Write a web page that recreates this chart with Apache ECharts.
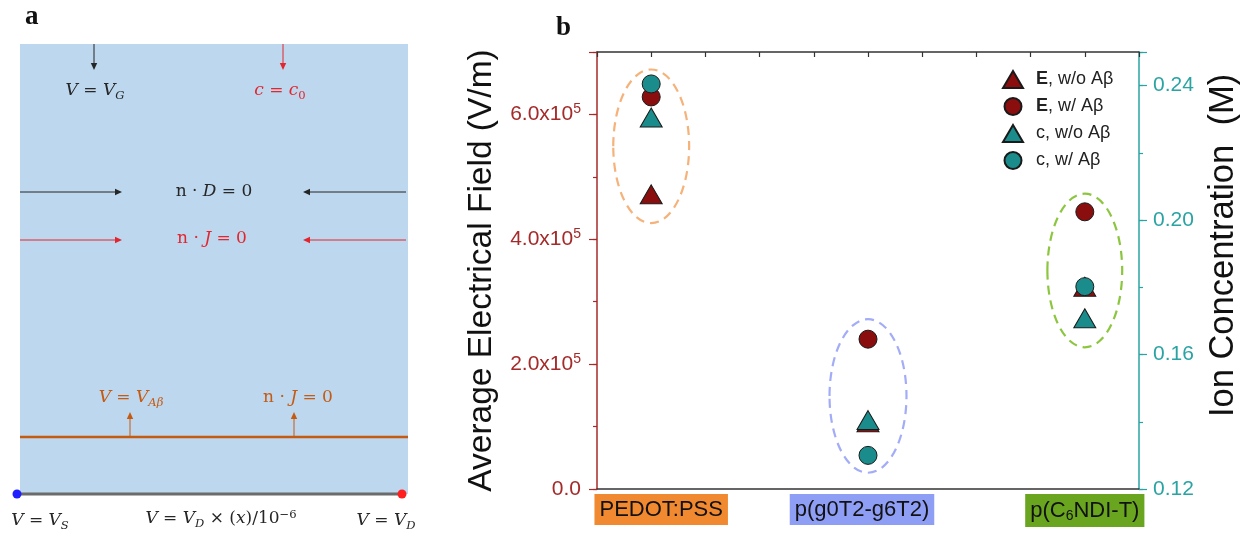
<!DOCTYPE html>
<html><head><meta charset="utf-8">
<script src="https://cdn.jsdelivr.net/npm/echarts@6/dist/echarts.min.js"></script>
<style>html,body{margin:0;padding:0;background:#fff}#c{width:1250px;height:533px}</style>
</head><body><div id="c"></div>
<script>
// ---- data ----
const categories = ['PEDOT:PSS', 'p(g0T2-g6T2)', 'p(C6NDI-T)'];
const categoryLabels = ['PEDOT:PSS', 'p(g0T2-g6T2)', 'p(C{sub|6}NDI-T)'];
const categoryPositions = [1, 5, 9];
const fieldWithoutAb = [4.72e5, 1.07e5, 3.24e5];
const fieldWithAb = [6.28e5, 2.40e5, 4.44e5];
const concWithoutAb = [0.2305, 0.1405, 0.1708];
const concWithAb = [0.2405, 0.1300, 0.1802];
const ellipseCenters = [5.49e5, 1.49e5, 3.50e5];
const ellipseHalfHeights = [1.23e5, 1.23e5, 1.23e5];
const ellipseHalfWidths = [0.70, 0.71, 0.69];
const seriesNames = ['E, w/o A\u03b2', 'E, w/ A\u03b2', 'c, w/o A\u03b2', 'c, w/ A\u03b2'];

// ---- styles ----
const RED = '#8b0e0e', TEAL = '#1a8c8c';
const RED_AX = '#a52a2a', TEAL_AX = '#2aa3a3';
const boxColors = ['#f0892f', '#8f9ef5', '#6aa51f'];
const boxShift = [10, -6, 0];
const ellipseColors = ['#f5b27a', '#a3acf7', '#8cc63f'];
const SANS = 'Liberation Sans';
const MATH = 'DejaVu Serif';

function mathRich(color, size) {
  return {
    i: {fontStyle: 'italic', fontSize: size, fontFamily: MATH, fill: color},
    u: {fontSize: size, fontFamily: MATH, fill: color},
    s: {fontStyle: 'italic', fontSize: size * 0.68, fontFamily: MATH, fill: color, padding: [9, 0, 0, 0]},
    r: {fontSize: size * 0.68, fontFamily: MATH, fill: color, padding: [9, 0, 0, 0]},
    p: {fontSize: size * 0.68, fontFamily: MATH, fill: color, padding: [0, 0, 9, 0]}
  };
}
function mtext(x, y, text, color) {
  return {type: 'text', x: x, y: y, silent: true, z: 10,
    style: {text: text, fill: color, fontSize: 17, fontFamily: MATH,
      align: 'center', verticalAlign: 'middle', textAlign: 'center', textVerticalAlign: 'middle',
      rich: mathRich(color, 17)}};
}
function arrow(x1, y1, x2, y2, color, w) {
  const dx = x2 - x1, dy = y2 - y1, L = Math.sqrt(dx * dx + dy * dy);
  const ux = dx / L, uy = dy / L, hl = 7, hw = 3.2;
  const bx = x2 - ux * hl, by = y2 - uy * hl;
  return [
    {type: 'line', silent: true, z: 10, shape: {x1: x1, y1: y1, x2: bx, y2: by}, style: {stroke: color, lineWidth: w || 1}},
    {type: 'polygon', silent: true, z: 10, shape: {points: [[x2, y2], [bx - uy * hw, by + ux * hw], [bx + uy * hw, by - ux * hw]]}, style: {fill: color}}
  ];
}
const BLK = '#262626', RD = '#e3262e', OR = '#c55a11';
const panelA = [].concat(
  [{type: 'rect', silent: true, z: 5, shape: {x: 20, y: 44, width: 388, height: 450}, style: {fill: '#bdd7ee'}}],
  [{type: 'line', silent: true, z: 9, shape: {x1: 20, y1: 437, x2: 408, y2: 437}, style: {stroke: OR, lineWidth: 2.5}}],
  [{type: 'line', silent: true, z: 9, shape: {x1: 17, y1: 494, x2: 402, y2: 494}, style: {stroke: '#6b6b6b', lineWidth: 3}}],
  [{type: 'circle', silent: true, z: 11, shape: {cx: 17, cy: 494, r: 4.5}, style: {fill: '#1f1fff'}}],
  [{type: 'circle', silent: true, z: 11, shape: {cx: 402, cy: 494, r: 4.5}, style: {fill: '#ff1f1f'}}],
  arrow(94, 44, 94, 70, BLK), arrow(283, 44, 283, 70, RD),
  arrow(20, 192, 122, 192, BLK), arrow(406, 192, 303, 192, BLK),
  arrow(20, 240, 122, 240, RD), arrow(406, 240, 303, 240, RD),
  arrow(130, 436, 130, 412, OR), arrow(294, 436, 294, 412, OR),
  [
    mtext(95, 91, '{i|V} = {i|V}{s|G}', BLK),
    mtext(280, 91, '{i|c} = {i|c}{r|0}', RD),
    mtext(214, 192, 'n \u00b7 {i|D} = 0', BLK),
    mtext(212, 239, 'n \u00b7 {i|J} = 0', RD),
    mtext(131, 398, '{i|V} = {i|V}{s|A\u03b2}', OR),
    mtext(298, 398, 'n \u00b7 {i|J} = 0', OR),
    mtext(40, 521, '{i|V} = {i|V}{s|S}', BLK),
    mtext(221, 519, '{i|V} = {i|V}{s|D} \u00d7 ({i|x})/10{p|\u22126}', BLK),
    mtext(386, 521, '{i|V} = {i|V}{s|D}', BLK),
    {type: 'text', x: 25, y: 4, silent: true, z: 10, style: {text: 'a', fill: '#111', fontSize: 27, fontWeight: 'bold', fontFamily: 'Liberation Serif'}},
    {type: 'text', x: 556, y: 15, silent: true, z: 10, style: {text: 'b', fill: '#111', fontSize: 27, fontWeight: 'bold', fontFamily: 'Liberation Serif'}}
  ]
);

function isMult(v, step) { const k = v / step; return Math.abs(k - Math.round(k)) < 1e-6; }

const chart = echarts.init(document.getElementById('c'));
const pts = (arr) => categoryPositions.map((x, i) => [x, arr[i]]);
const mk = (name, arr, yIdx, symbol, color) => ({
  name: name, type: 'scatter', xAxisIndex: 0, yAxisIndex: yIdx, data: pts(arr),
  symbol: symbol, symbolSize: symbol === 'triangle' ? [22, 19] : 18, z: 3,
  itemStyle: {color: color, borderColor: '#1a1a1a', borderWidth: 1, opacity: 1},
  emphasis: {disabled: true}
});

chart.setOption({
  animation: false,
  backgroundColor: '#fff',
  textStyle: {fontFamily: SANS},
  graphic: {elements: panelA},
  grid: {left: 597, right: 111, top: 52, bottom: 44, containLabel: false, outerBoundsMode: 'none'},
  legend: {
    orient: 'vertical', left: 997, top: 65, itemWidth: 20, itemHeight: 17, itemGap: 8,
    selectedMode: false, data: seriesNames,
    textStyle: {fontSize: 18, color: '#222', fontFamily: SANS, padding: [0, 0, 0, 8],
      rich: {b: {fontWeight: 'bold', fontSize: 18, color: '#222'}, n: {fontSize: 18, color: '#222'}}},
    formatter: (name) => name.charAt(0) === 'E' ? '{b|E}{n|' + name.slice(1) + '}' : '{n|' + name + '}'
  },
  xAxis: [
    {type: 'value', position: 'bottom', min: 0, max: 10, interval: 1,
      axisLine: {onZero: false, lineStyle: {color: '#333', width: 1.5}}, axisTick: {show: false},
      axisLabel: {show: false}, splitLine: {show: false}},
    {type: 'value', position: 'top', min: 0, max: 10, interval: 1,
      axisLine: {onZero: false, lineStyle: {color: '#333', width: 1.5}},
      axisTick: {show: true, inside: true, length: 5, lineStyle: {color: '#333', width: 1.2}},
      axisLabel: {show: false}, splitLine: {show: false}}
  ],
  yAxis: [
    {type: 'value', position: 'left', min: 0, max: 7e5, interval: 2e5,
      name: 'Average Electrical Field (V/m)', nameLocation: 'middle', nameGap: 98,
      nameTextStyle: {fontSize: 33.5, color: '#111', fontFamily: SANS},
      axisLine: {show: true, onZero: false, lineStyle: {color: RED_AX, width: 1.5}},
      axisTick: {show: true, length: 8, lineStyle: {color: RED_AX, width: 1.2}},
      splitLine: {show: false},
      axisLabel: {margin: 16, color: RED_AX, fontSize: 21,
        rich: {n: {fontSize: 21, color: RED_AX, fontFamily: SANS}, s: {fontSize: 14, color: RED_AX, fontFamily: SANS, padding: [0, 0, 11, 0]}},
        formatter: (v) => {
          if (v === 0) return '{n|0.0}';
          if (!isMult(v, 2e5)) return '';
          return '{n|' + (v / 1e5).toFixed(1) + 'x10}{s|5}';
        }}},
    {type: 'value', position: 'right', min: 0.12, max: 0.25, interval: 0.04,
      name: 'Ion Concentration  (M)', nameLocation: 'middle', nameGap: 67,
      nameTextStyle: {fontSize: 34.5, color: '#111', fontFamily: SANS, padding: [0, 0, 0, 50]},
      axisLine: {show: true, onZero: false, lineStyle: {color: TEAL_AX, width: 1.5}},
      axisTick: {show: true, length: 8, lineStyle: {color: TEAL_AX, width: 1.2}},
      splitLine: {show: false},
      axisLabel: {margin: 14, color: TEAL_AX, fontSize: 21, fontFamily: SANS,
        formatter: (v) => isMult(v - 0.12, 0.04) ? v.toFixed(2) : ''}},
    {type: 'value', position: 'left', min: 0, max: 7e5, interval: 1e5,
      axisLine: {show: false, onZero: false}, axisLabel: {show: false}, splitLine: {show: false},
      axisTick: {show: true, length: 4, lineStyle: {color: RED_AX, width: 1.2}}},
    {type: 'value', position: 'right', min: 0.12, max: 0.25, interval: 0.02,
      axisLine: {show: false, onZero: false}, axisLabel: {show: false}, splitLine: {show: false},
      axisTick: {show: true, length: 4, lineStyle: {color: TEAL_AX, width: 1.2}}}
  ],
  series: [
    {type: 'custom', name: 'ellipses', xAxisIndex: 0, yAxisIndex: 0, silent: true, z: 1,
      data: categoryPositions.map((x, i) => [x, ellipseCenters[i], ellipseHalfWidths[i], ellipseHalfHeights[i], i]),
      renderItem: (params, api) => {
        const i = api.value(4);
        const c = api.coord([api.value(0), api.value(1)]);
        const s = api.size([api.value(2), api.value(3)]);
        return {type: 'ellipse', shape: {cx: c[0], cy: c[1], rx: s[0], ry: s[1]},
          style: {fill: 'none', stroke: ellipseColors[i], lineWidth: 2.2, lineDash: [9, 6]}};
      }},
    mk(seriesNames[0], fieldWithoutAb, 0, 'triangle', RED),
    mk(seriesNames[1], fieldWithAb, 0, 'circle', RED),
    mk(seriesNames[2], concWithoutAb, 1, 'triangle', TEAL),
    mk(seriesNames[3], concWithAb, 1, 'circle', TEAL),
    {type: 'custom', name: 'categoryLabels', xAxisIndex: 0, yAxisIndex: 0, silent: true, z: 5, clip: false,
      data: categoryPositions.map((x, i) => [x, 0, i]),
      renderItem: (params, api) => {
        const i = api.value(2);
        const p = api.coord([api.value(0), api.value(1)]);
        return {type: 'text', x: p[0] + boxShift[i], y: p[1] + 5,
          style: {text: categoryLabels[i], fill: '#111', fontSize: 22, fontFamily: SANS,
            align: 'center', verticalAlign: 'top', textAlign: 'center', textVerticalAlign: 'top',
            backgroundColor: boxColors[i], padding: [5, 5, 4, 5],
            rich: {sub: {fontSize: 14, fill: '#111', fontFamily: SANS, padding: [10, 0, 0, 0]}}}};
      }}
  ]
});
</script></body></html>
